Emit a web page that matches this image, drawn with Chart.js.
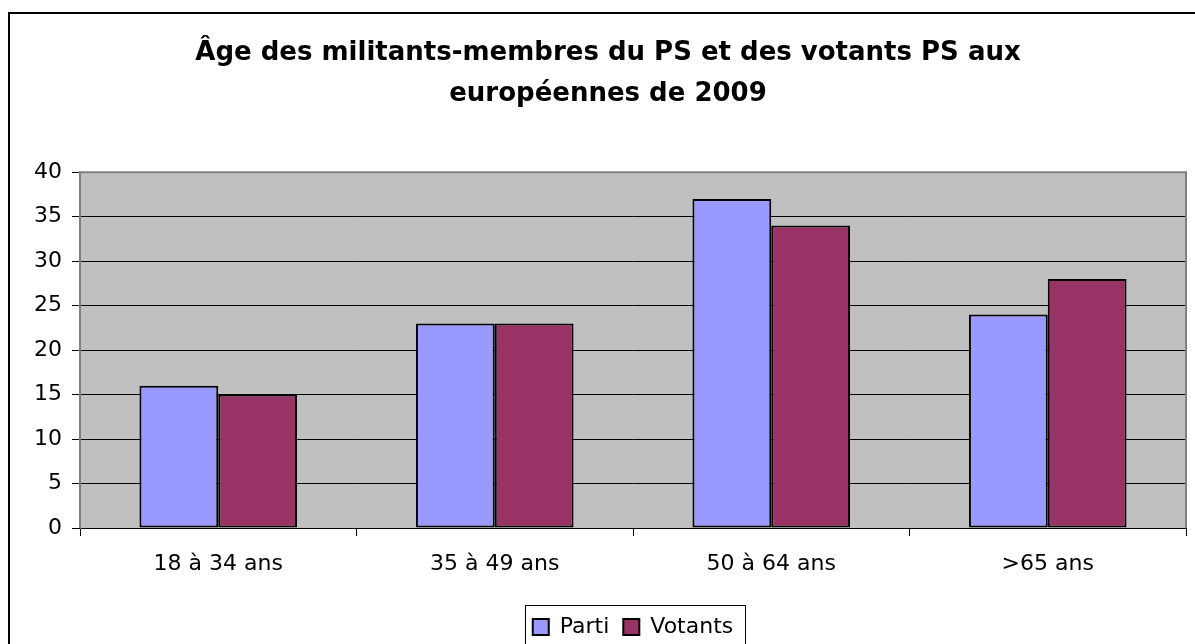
<!DOCTYPE html>
<html>
<head>
<meta charset="utf-8">
<script src="https://cdn.jsdelivr.net/npm/chart.js@4.4.1/dist/chart.umd.min.js"></script>
<style>
  html, body { margin: 0; padding: 0; background: #fff; }
  #wrap { width: 1195px; height: 644px; }
</style>
</head>
<body>
<div id="wrap"><canvas id="ageChart"></canvas></div>
<script>
const categories = ['18 à 34 ans', '35 à 49 ans', '50 à 64 ans', '>65 ans'];
const partiValues = [16, 23, 37, 24];
const votantsValues = [15, 23, 34, 28];
const titleLines = ['Âge des militants-membres du PS et des votants PS aux', 'européennes de 2009'];

Chart.defaults.font.family = '"DejaVu Sans", "Liberation Sans", Arial, sans-serif';
Chart.defaults.color = '#000';

// grey plot area, outer frame, legend frame
const excelLook = {
    id: 'excelLook',
    beforeDraw(chart) {
        const ctx = chart.ctx;
        const a = chart.chartArea;
        ctx.save();
        ctx.fillStyle = '#fff';
        ctx.fillRect(0, 0, chart.width, chart.height);
        ctx.strokeStyle = '#000';
        ctx.lineWidth = 2;
        ctx.strokeRect(9, 13, chart.width + 20, chart.height + 20);
        ctx.fillStyle = '#C0C0C0';
        ctx.fillRect(a.left, a.top, a.right - a.left, a.bottom - a.top);
        ctx.restore();
    },
    afterDatasetsDraw(chart) {
        const ctx = chart.ctx;
        const a = chart.chartArea;
        ctx.save();
        ctx.strokeStyle = '#808080';
        ctx.lineWidth = 2;
        ctx.beginPath();
        ctx.moveTo(a.left, a.bottom);
        ctx.lineTo(a.left, a.top);
        ctx.lineTo(a.right, a.top);
        ctx.lineTo(a.right, a.bottom);
        ctx.stroke();
        ctx.restore();
    },
    afterLayout(chart) {
        const lg = chart.legend;
        lg.left += 25;
        lg.right += 25;
    },
    afterDraw(chart) {
        const lg = chart.legend;
        const ctx = chart.ctx;
        const w = lg.legendHitBoxes;
        if (!w.length) return;
        const x0 = w[0].left - 8;
        const x1 = w[w.length - 1].left + w[w.length - 1].width + 12;
        ctx.save();
        ctx.strokeStyle = '#000';
        ctx.lineWidth = 1;
        ctx.strokeRect(Math.round(x0) + 0.5, 605.5, Math.round(x1 - x0), 60);
        ctx.restore();
    }
};

new Chart(document.getElementById('ageChart'), {
    type: 'bar',
    data: {
        labels: categories,
        datasets: [
            {label: 'Parti', data: partiValues, backgroundColor: '#9999FF', borderColor: '#000', borderWidth: 2, borderSkipped: false},
            {label: 'Votants', data: votantsValues, backgroundColor: '#993366', borderColor: '#000', borderWidth: 2, borderSkipped: false}
        ]
    },
    options: {
        responsive: true,
        maintainAspectRatio: false,
        animation: false,
        layout: {padding: {left: 30, right: 9, top: 12, bottom: -4}},
        datasets: {bar: {categoryPercentage: 0.57, barPercentage: 1.0}},
        plugins: {
            title: {
                display: true,
                text: titleLines,
                font: {size: 26, weight: 'bold', lineHeight: 1.6},
                color: '#000',
                padding: {top: 20, bottom: 57}
            },
            legend: {
                position: 'bottom',
                labels: {
                    font: {size: 22},
                    color: '#000',
                    boxWidth: 16,
                    boxHeight: 16,
                    padding: 14
                }
            },
            tooltip: {enabled: false}
        },
        scales: {
            x: {
                afterFit(scale) { scale.height = 74; },
                grid: {display: true, drawOnChartArea: false, drawTicks: true, tickLength: 8, color: '#000', offset: true},
                border: {display: true, color: '#000', width: 1},
                ticks: {font: {size: 22}, color: '#000', padding: 15}
            },
            y: {
                min: 0,
                max: 40,
                afterFit(scale) { scale.width = 50; },
                ticks: {stepSize: 5, font: {size: 22}, color: '#000', padding: 10},
                grid: {color: '#000', tickLength: 8, drawTicks: true},
                border: {display: true, color: '#808080', width: 1}
            }
        }
    },
    plugins: [excelLook]
});
</script>
</body>
</html>
